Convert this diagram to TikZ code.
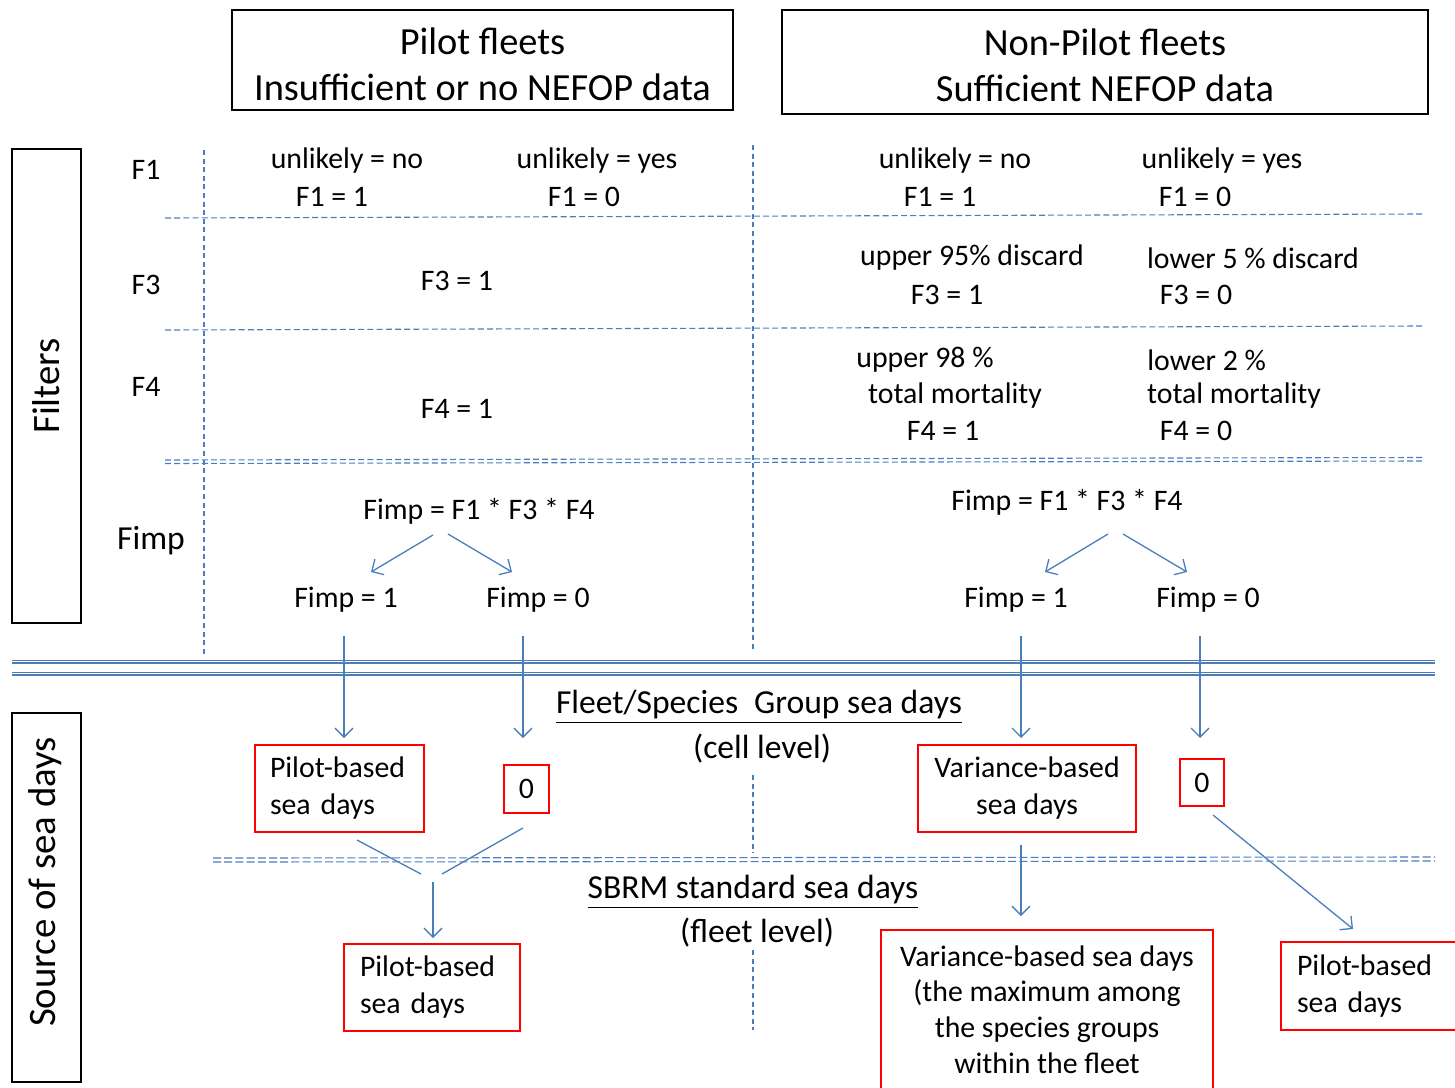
\documentclass[tikz,border=0pt]{standalone}
\usepackage{fontspec}
\setmainfont{Carlito}
\usetikzlibrary{arrows.meta}
\definecolor{lineblue}{RGB}{74,126,187}
\newcommand{\bodyf}{\fontsize{14.9}{18.5}\selectfont}
\newcommand{\headf}{\fontsize{19.2}{23}\selectfont}
\newcommand{\sidef}{\fontsize{19.4}{23}\selectfont}
\newcommand{\midf}{\fontsize{16.8}{20.5}\selectfont}
\tikzset{
  lbl/.style={font=\bodyf, inner sep=0pt, align=center, yshift=-1pt},
  midlbl/.style={font=\midf, inner sep=0pt, align=center, yshift=-1.5pt},
  blkbox/.style={draw=black, line width=0.8pt, inner sep=0pt},
  headtxt/.style={font=\headf, align=center, inner sep=0pt},
  redbox/.style={draw=red, line width=0.9pt, font=\bodyf, inner sep=0pt},
  guide/.style={draw=lineblue, line width=0.55pt, dash pattern=on 3pt off 1.6pt},
  vguide/.style={draw=lineblue, line width=0.55pt, dash pattern=on 2.5pt off 1.8pt},
  dguide/.style={draw=lineblue, line width=0.55pt, dash pattern=on 4pt off 1.6pt},
  arr/.style={draw=lineblue, line width=0.65pt, -{Straight Barb[length=4.5pt,width=9pt]}},
  plainln/.style={draw=lineblue, line width=0.65pt},
}
\begin{document}
\begin{tikzpicture}[x=0.5pt,y=-0.5pt]
\useasboundingbox (0,0) rectangle (1455,1087);

% headers
\node[blkbox, minimum width=250.5pt, minimum height=50pt] (hleft) at (482.5,60) {};
\node[headtxt] (hlefttxt) at (482.5,64.5) {Pilot fleets\\Insufficient or no NEFOP data};
\node[blkbox, minimum width=323pt, minimum height=52pt] (hright) at (1105,62) {};
\node[headtxt] (hrighttxt) at (1105,65) {Non-Pilot fleets\\Sufficient NEFOP data};

% side boxes
\node[blkbox, rotate=90, minimum width=237pt, minimum height=34.5pt, font=\sidef] (filt) at (46.5,386) {Filters};
\node[blkbox, rotate=90, minimum width=184.5pt, minimum height=34.5pt] (srcbox) at (46.5,897.5) {};
\node[font=\sidef, rotate=90, inner sep=0pt] (srctxt) at (45,882) {Source of sea days};

% row labels
\node[lbl] (rF1) at (146,168) {F1};
\node[lbl] (rF3) at (146,283) {F3};
\node[lbl] (rF4) at (146,385) {F4};
\node[midlbl] (rFimp) at (151,538) {Fimp};

% guide lines
\draw[vguide] (204,150) -- (204,655);
\draw[vguide] (753,145) -- (753,650);
\draw[vguide] (753,775) -- (753,853);
\draw[vguide] (753,950) -- (753,1030);
\draw[guide] (165,218) -- (1422,214);
\draw[guide] (165,330) -- (1422,326);
\draw[guide] (165,460) -- (1422,457.5);
\draw[guide] (165,463.5) -- (1422,461);
\draw[dguide] (213,858) -- (1435,857);
\draw[dguide] (213,862) -- (1435,861);
\draw[draw=lineblue, line width=0.45pt] (12,660) -- (1435,660);
\draw[draw=lineblue, line width=1.2pt] (12,663.2) -- (1435,663.2);
\draw[draw=lineblue, line width=0.45pt] (12,672.5) -- (1435,672.5);
\draw[draw=lineblue, line width=1.2pt] (12,675.2) -- (1435,675.2);

% F1 row
\node[lbl] (pl1a) at (347,159) {unlikely = no};
\node[lbl] (pl1b) at (332,195) {F1 = 1};
\node[lbl] (pl2a) at (597,159) {unlikely = yes};
\node[lbl] (pl2b) at (584,195) {F1 = 0};
\node[lbl] (np1a) at (955,159) {unlikely = no};
\node[lbl] (np1b) at (940,195) {F1 = 1};
\node[lbl] (np2a) at (1222,159) {unlikely = yes};
\node[lbl] (np2b) at (1195,195) {F1 = 0};

% F3 row
\node[lbl] (plF3) at (457,279) {F3 = 1};
\node[lbl] (np3a) at (972,256) {upper 95\% discard};
\node[lbl] (np3b) at (947,293) {F3 = 1};
\node[lbl] (np4a) at (1253,256) {lower 5 \% discard};
\node[lbl] (np4b) at (1196,293) {F3 = 0};

% F4 row
\node[lbl] (plF4) at (457,407) {F4 = 1};
\node[lbl, anchor=west] (np5a) at (856,358) {upper 98 \%};
\node[lbl] (np5b) at (955,394) {total mortality};
\node[lbl] (np5c) at (943,429) {F4 = 1};
\node[lbl, anchor=west] (np6a) at (1147,358) {lower 2 \%};
\node[lbl] (np6b) at (1234,394) {total mortality};
\node[lbl] (np6c) at (1196,429) {F4 = 0};

% Fimp
\node[lbl] (fl) at (479,509) {Fimp = F1 * F3 * F4};
\node[lbl] (fr) at (1067,500) {Fimp = F1 * F3 * F4};
\node[lbl] (fl1) at (346,598) {Fimp = 1};
\node[lbl] (fl0) at (538,598) {Fimp = 0};
\node[lbl] (fr1) at (1016,598) {Fimp = 1};
\node[lbl] (fr0) at (1208,598) {Fimp = 0};

\coordinate (flA) at (433,535); \coordinate (flA1) at (371,572);
\coordinate (flB) at (448,534); \coordinate (flB0) at (512,572);
\coordinate (frA) at (1108,534); \coordinate (frA1) at (1045,572);
\coordinate (frB) at (1123,534); \coordinate (frB0) at (1187,572);
\draw[arr] (flA) -- (flA1);
\draw[arr] (flB) -- (flB0);
\draw[arr] (frA) -- (frA1);
\draw[arr] (frB) -- (frB0);

% middle titles
\node[midlbl] (cellt) at (759,704) {\underline{Fleet/Species\hspace{0.25em} Group sea days}};
\node[midlbl] (cellp) at (762,746) {(cell level)};
\node[midlbl] (fleett) at (753,889) {\underline{SBRM standard sea days}};
\node[midlbl] (fleetp) at (757,930) {(fleet level)};

% red boxes, cell level
\node[redbox, minimum width=84.5pt, minimum height=43.5pt, text width=69.5pt, inner xsep=7.5pt, align=left] (b1) at (339.5,788.5) {Pilot-based\\sea days};
\node[redbox, minimum width=22.5pt, minimum height=24pt] (z1) at (526.5,789) {0};
\node[redbox, minimum width=109pt, minimum height=43.5pt, align=center] (b2) at (1027,788.5) {Variance-based\\sea days};
\node[redbox, minimum width=22pt, minimum height=23.5pt] (z2) at (1202,782.5) {0};

% red boxes, fleet level
\node[redbox, minimum width=88pt, minimum height=43.5pt, text width=72pt, inner xsep=8pt, align=left] (b3) at (432,987.5) {Pilot-based\\sea days};
\node[redbox, minimum width=166pt, minimum height=79.5pt, align=center, font=\fontsize{14.9}{17.9}\selectfont] (b4) at (1047,1009.5) {Variance-based sea days\\(the maximum among\\the species groups\\within the fleet};
\node[redbox, minimum width=92pt, minimum height=44pt, text width=76pt, inner xsep=8pt, align=left] (b5) at (1373,986) {Pilot-based\\sea days};

% down arrows from Fimp to cell boxes
\coordinate (d1s) at (344,636); \coordinate (d1e) at (344,738);
\coordinate (d2s) at (523,636); \coordinate (d2e) at (523,738);
\coordinate (d3s) at (1021,636); \coordinate (d3e) at (1021,738);
\coordinate (d4s) at (1200,636); \coordinate (d4e) at (1200,738);
\draw[arr] (d1s) -- (d1e);
\draw[arr] (d2s) -- (d2e);
\draw[arr] (d3s) -- (d3e);
\draw[arr] (d4s) -- (d4e);

% merging to fleet level (pilot side)
\coordinate (m1s) at (357,840); \coordinate (m1e) at (421,874);
\coordinate (m2s) at (523,828); \coordinate (m2e) at (442,874);
\coordinate (m3s) at (433,882); \coordinate (m3e) at (433,938);
\draw[plainln] (m1s) -- (m1e);
\draw[plainln] (m2s) -- (m2e);
\draw[arr] (m3s) -- (m3e);

% non-pilot side
\coordinate (n1s) at (1021,845); \coordinate (n1e) at (1021,916);
\coordinate (n2s) at (1213,815); \coordinate (n2e) at (1353,929);
\draw[arr] (n1s) -- (n1e);
\draw[arr] (n2s) -- (n2e);
\end{tikzpicture}
\end{document}
